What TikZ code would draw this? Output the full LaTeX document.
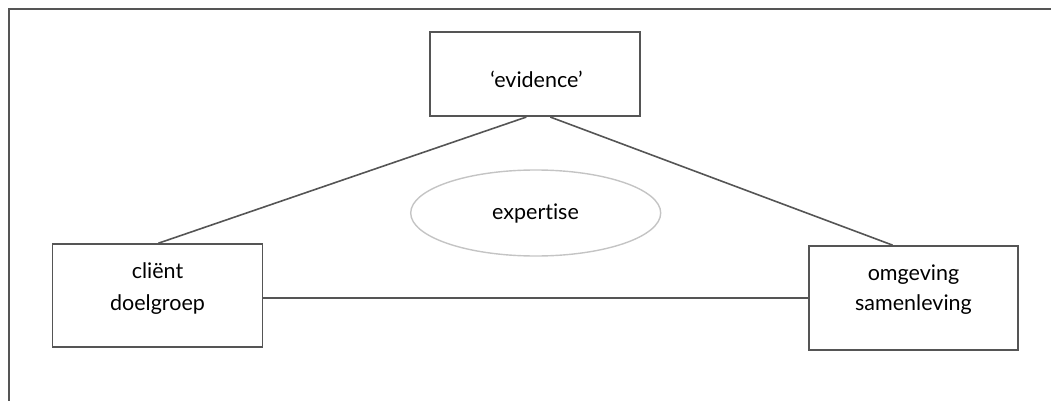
\documentclass[tikz,border=0pt]{standalone}
\usepackage{fontspec}
\setmainfont[RawFeature=-liga]{Lato}
\usetikzlibrary{shapes.geometric,calc}
\definecolor{linegray}{HTML}{555555}
\definecolor{ellgray}{HTML}{C4C4C4}
\begin{document}
\begin{tikzpicture}[x=1pt,y=-1pt,
  boxshape/.style={draw=linegray,line width=1.7pt,rectangle,inner sep=0pt},
  lbl/.style={anchor=base,inner sep=0pt,font=\fontsize{21.5}{25}\selectfont,text=black},
  conn/.style={draw=linegray,line width=1.6pt}]
\useasboundingbox (0,0) rectangle (1051,401);
% frame (cropped)
\draw[linegray,line width=2pt] (9,401) -- (9,9.5) -- (1051,9.5);
% boxes
\node[boxshape,minimum width=210pt,minimum height=84pt] (ev) at (535.3,74.2) {};
\node[boxshape,minimum width=210pt,minimum height=103pt] (cl) at (157.5,295.6) {};
\node[boxshape,minimum width=209pt,minimum height=104pt] (om) at (913.6,298) {};
\node[ellipse,draw=ellgray,line width=1.4pt,minimum width=250pt,minimum height=86pt,inner sep=0pt] (ex) at (535.7,213) {};
% texts
\node[lbl] (tev) at (536.5,88) {‘evidence’};
\node[lbl] (tex) at (535.5,219) {expertise};
\node[lbl] (tcl1) at (157.5,278) {cliënt};
\node[lbl] (tcl2) at (157.5,310) {doelgroep};
\node[lbl] (tom1) at (913.5,280) {omgeving};
\node[lbl] (tom2) at (913.5,310.5) {samenleving};
% connectors
\draw[conn] ($(ev.south)+(-9,0)$) -- ($(cl.north)+(0.8,0)$);
\draw[conn] ($(ev.south)+(15,0)$) -- ($(om.north)+(-21,0)$);
\draw[conn] (cl.east |- 0,298) -- (om.west |- 0,298);
\end{tikzpicture}
\end{document}
